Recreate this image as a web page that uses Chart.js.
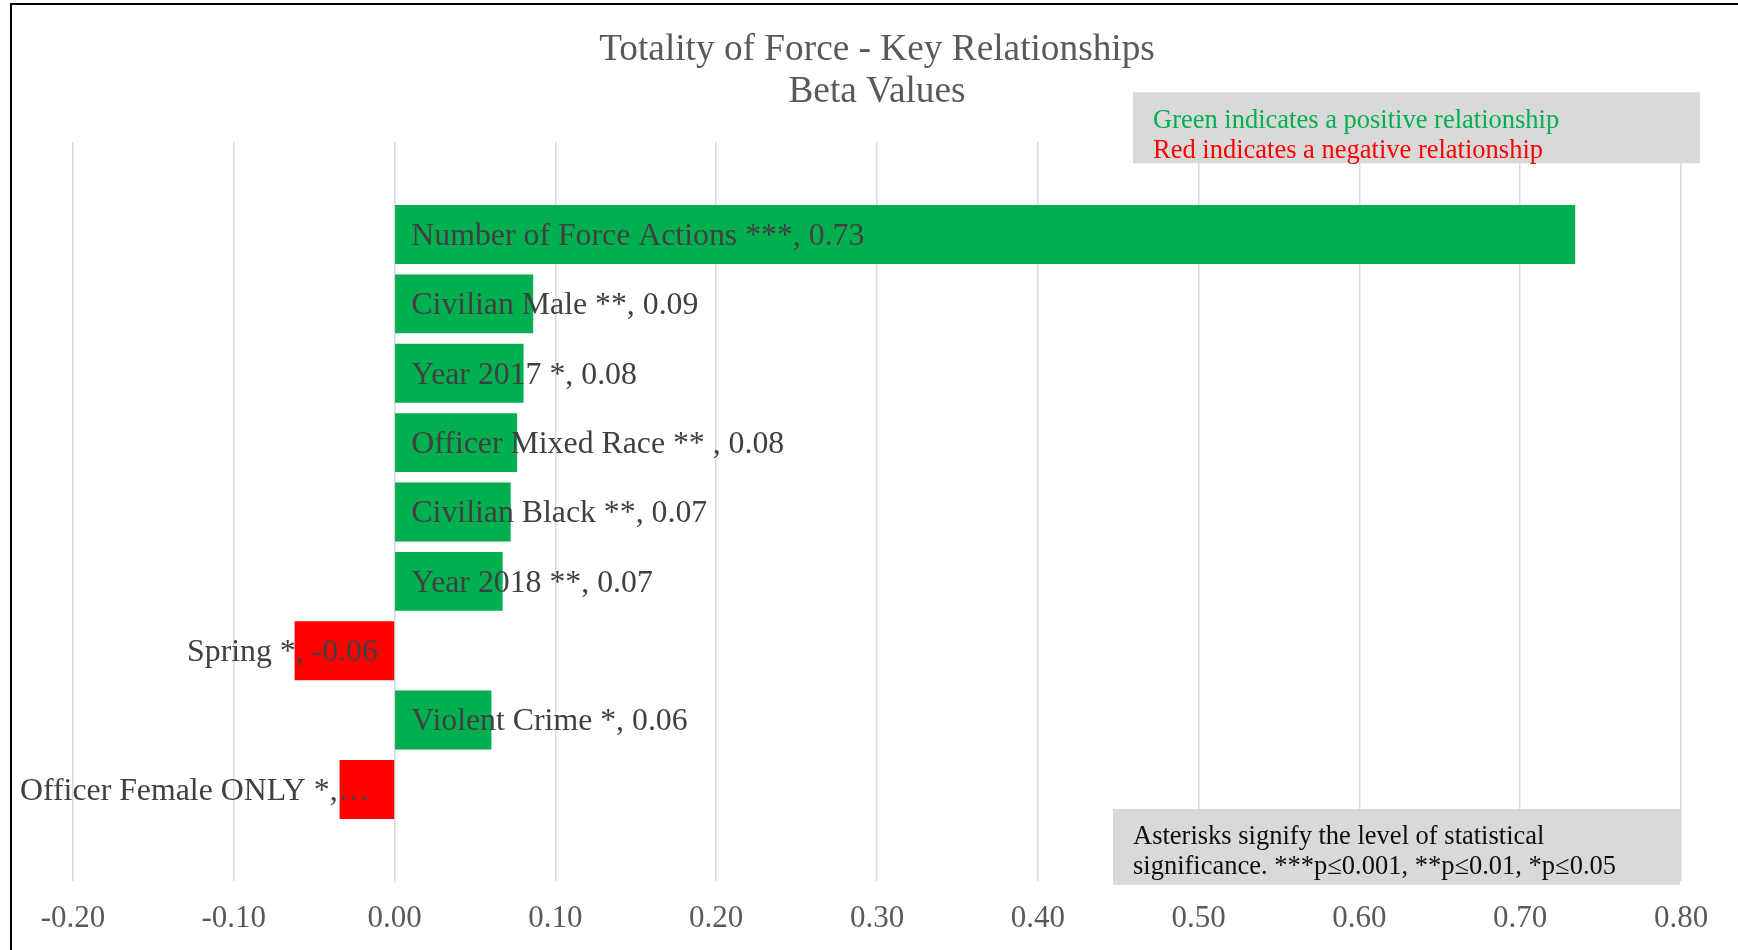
<!DOCTYPE html>
<html>
<head>
<meta charset="utf-8">
<script src="https://cdn.jsdelivr.net/npm/chart.js@4/dist/chart.umd.min.js"></script>
<style>
  html, body { margin: 0; padding: 0; background: #fff; overflow: hidden; }
  #frame { position: absolute; left: 10px; top: 3px; width: 1740px; height: 960px;
           border-left: 2px solid #000; border-top: 2px solid #000; }
  #c { position: absolute; left: 0; top: 0; }
</style>
</head>
<body>
<div id="frame"></div>
<canvas id="c" width="1738" height="950"></canvas>
<script>
const categories = [
  'Number of Force Actions ***',
  'Civilian Male **',
  'Year 2017 *',
  'Officer Mixed Race ** ',
  'Civilian Black **',
  'Year 2018 **',
  'Spring *',
  'Violent Crime *',
  'Officer Female ONLY *'
];
const betaValues = [0.734, 0.086, 0.080, 0.076, 0.072, 0.067, -0.062, 0.060, -0.034];
const xMin = -0.2, xMax = 0.8, xStep = 0.1;
const titleLines = ['Totality of Force - Key Relationships', 'Beta Values'];
const colorNote = [
  { text: 'Green indicates a positive relationship', color: '#00B050' },
  { text: 'Red indicates a negative relationship', color: '#FF0000' }
];
const asteriskNote = ['Asterisks signify the level of statistical',
                      'significance. ***p\u22640.001, **p\u22640.01, *p\u22640.05'];

const POS = '#00B050', NEG = '#FF0000';
const SERIF = '"Liberation Serif", "Times New Roman", serif';

const barLabels = {
  id: 'barLabels',
  afterDatasetsDraw(chart) {
    const ctx = chart.ctx;
    const meta = chart.getDatasetMeta(0);
    ctx.save();
    ctx.font = '31.8px ' + SERIF;
    ctx.fillStyle = '#404040';
    ctx.textBaseline = 'middle';
    const minLeft = chart.chartArea.left - 53;
    meta.data.forEach((bar, i) => {
      const v = betaValues[i];
      const y = bar.y + 2;
      let txt = categories[i] + ', ' + v.toFixed(2);
      if (v >= 0) {
        ctx.textAlign = 'left';
        ctx.fillText(txt, bar.base + 16, y);
      } else {
        const end = bar.base - 16;
        if (ctx.measureText(txt).width > end - minLeft) {
          while (txt.length && ctx.measureText(txt.trimEnd() + '\u2026').width > end - minLeft) {
            txt = txt.slice(0, -1);
          }
          txt = txt.trimEnd() + '\u2026';
          ctx.textAlign = 'left';
          ctx.fillText(txt, minLeft, y);
        } else {
          ctx.textAlign = 'right';
          ctx.fillText(txt, end, y);
        }
      }
    });
    ctx.restore();
  }
};

const noteBoxes = {
  id: 'noteBoxes',
  afterDraw(chart) {
    const ctx = chart.ctx;
    const a = chart.chartArea;
    ctx.save();
    ctx.font = '26.5px ' + SERIF;
    ctx.textBaseline = 'middle';
    ctx.textAlign = 'left';
    // colour key box (top right)
    ctx.fillStyle = '#D9D9D9';
    ctx.fillRect(a.right - 548, a.top - 50, 567, 71);
    colorNote.forEach((n, k) => {
      ctx.fillStyle = n.color;
      ctx.fillText(n.text, a.right - 528, a.top - 21 + k * 30);
    });
    // asterisk box (bottom right)
    ctx.fillStyle = '#D9D9D9';
    ctx.fillRect(a.right - 568, a.bottom - 72, 567, 76);
    ctx.fillStyle = '#0D0D0D';
    asteriskNote.forEach((t, k) => {
      ctx.fillText(t, a.right - 548, a.bottom - 44 + k * 30);
    });
    ctx.restore();
  }
};

new Chart(document.getElementById('c'), {
  type: 'bar',
  data: {
    datasets: [{
      data: betaValues.map((v, i) => ({ x: v, y: i })),
      backgroundColor: betaValues.map(v => v >= 0 ? POS : NEG),
      borderWidth: 0,
      barThickness: 'flex',
      categoryPercentage: 1,
      barPercentage: 0.84
    }]
  },
  options: {
    indexAxis: 'y',
    responsive: false,
    animation: false,
    devicePixelRatio: 1,
    layout: { padding: { left: 73, right: 57, top: 0, bottom: 0 } },
    scales: {
      x: {
        type: 'linear',
        min: xMin, max: xMax,
        beginAtZero: false,
        ticks: {
          stepSize: xStep,
          callback: v => v.toFixed(2),
          color: '#595959',
          font: { family: SERIF, size: 31 },
          padding: 19
        },
        grid: { color: '#D9D9D9', lineWidth: 1.5, drawTicks: false },
        border: { display: false },
        afterFit(scale) { scale.height = 69; }
      },
      y: {
        type: 'linear',
        bounds: 'data',
        offset: false,
        grid: { offset: false },
        min: -1.33, max: 9.32,
        reverse: true,
        ticks: { stepSize: 1, includeBounds: false },
        display: false
      }
    },
    plugins: {
      legend: { display: false },
      tooltip: { enabled: false },
      title: {
        display: true,
        text: titleLines,
        color: '#595959',
        font: { family: SERIF, size: 37.3, weight: 'normal', lineHeight: 1.13 },
        padding: { top: 29, bottom: 29 }
      }
    }
  },
  plugins: [barLabels, noteBoxes]
});
</script>
</body>
</html>
